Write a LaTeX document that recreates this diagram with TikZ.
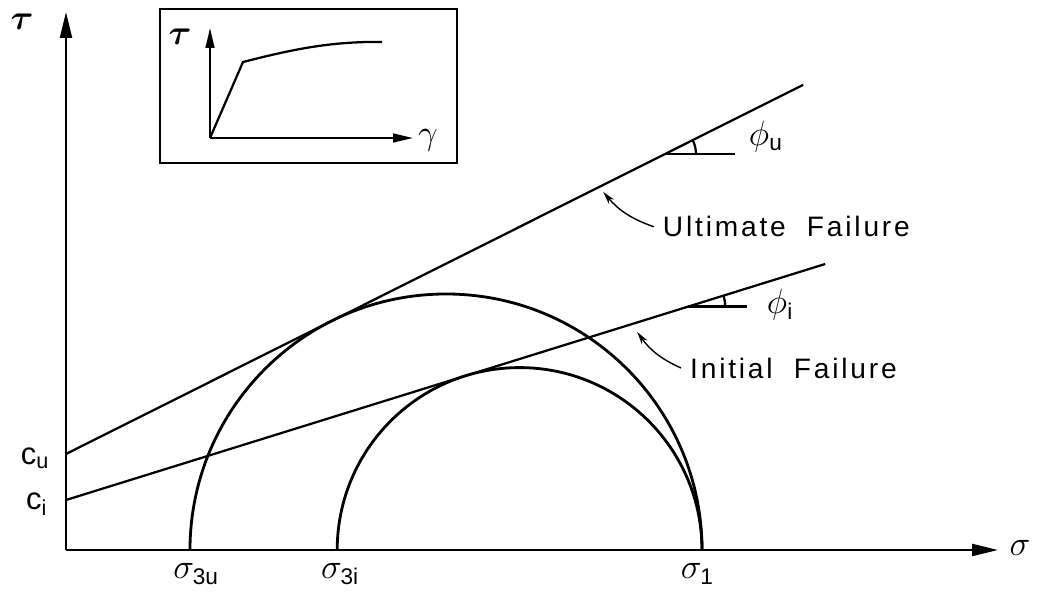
\documentclass[tikz,border=0pt]{standalone}
\usepackage{bm}
\usepackage{fontspec}
\setmainfont{Liberation Sans}
\usetikzlibrary{arrows.meta}

\tikzset{
    axis/.style={line width=1.6pt, -{Triangle[length=0.65cm,width=0.3cm]}},
    smallaxis/.style={line width=1.4pt, -{Triangle[length=0.5cm,width=0.22cm]}},
    envelope/.style={line width=1.6pt},
    mohr/.style={line width=2pt},
    lbl/.style={font=\fontsize{23}{27}\selectfont},
    cohesion/.style={font=\fontsize{22}{26}\selectfont},
    note/.style={font=\fontsize{20}{24}\selectfont\addfontfeature{LetterSpace=10}},
    pointer/.style={line width=1pt, -{Stealth[length=0.32cm,width=0.17cm]}},
}

\begin{document}
\begin{tikzpicture}
    \useasboundingbox (-1.65,-1.15) rectangle (24.4,13.75);

    % axes
    \coordinate (O) at (0,0);
    \draw[axis] (O) -- (0,13.45);
    \draw[axis] (O) -- (23.3,0);
    \node[lbl, inner sep=0pt] (tau) at (-1.1,13.2) {$\bm{\tau}$};
    \node[lbl] (sig) at (23.85,0.05) {$\sigma$};

    % Mohr circles
    \draw[mohr] (3.1,0) arc[start angle=180, end angle=0, radius=6.4];
    \draw[mohr] (6.78,0) arc[start angle=180, end angle=0, radius=4.56];

    \node[lbl] (s3u) at (3.25,-0.6) {$\sigma_{\mathrm{3u}}$};
    \node[lbl] (s3i) at (6.85,-0.6) {$\sigma_{\mathrm{3i}}$};
    \node[lbl] (s1) at (15.78,-0.6) {$\sigma_{\mathrm{1}}$};

    % failure envelopes
    \coordinate (cu) at (0,2.4);
    \coordinate (ci) at (0,1.25);
    \coordinate (uend) at (18.43,11.63);
    \coordinate (iend) at (18.98,7.15);
    \draw[envelope] (cu) -- (uend);
    \draw[envelope] (ci) -- (iend);

    \node[cohesion, anchor=east] (cul) at (-0.3,2.3) {c$_{\mathrm{u}}$};
    \node[cohesion, anchor=east] (cil) at (-0.35,1.15) {c$_{\mathrm{i}}$};

    % friction angles
    \coordinate (pu) at (14.98,9.9);
    \coordinate (pi) at (15.55,6.085);
    \draw[envelope] (pu) -- ++(1.75,0);
    \draw[envelope] ([xshift=0.77cm]pu) arc[start angle=0, end angle=26.6, radius=0.77];
    \draw[envelope] (pi) -- ++(1.48,0);
    \draw[envelope] ([xshift=0.93cm]pi) arc[start angle=0, end angle=17.3, radius=0.93];
    \node[lbl, anchor=west] (phiu) at (16.95,10.33) {$\phi_{\mathrm{u}}$};
    \node[lbl, anchor=west] (phii) at (17.4,6.12) {$\phi_{\mathrm{i}}$};

    % labels with pointers
    \node[note, anchor=west] (ult) at (14.8,8.08) {Ultimate\ \ Failure};
    \node[note, anchor=west] (ini) at (15.48,4.55) {Initial\ \ Failure};
    \coordinate (ulttip) at (13.43,8.95);
    \coordinate (initip) at (14.28,5.45);
    \draw[pointer] ([xshift=-3pt]ult.west) to[bend left=15] (ulttip);
    \draw[pointer] ([xshift=-3pt]ini.west) to[bend left=15] (initip);

    % inset: stress-strain curve
    \draw[line width=1.5pt] (2.35,9.675) rectangle (9.78,13.525);
    \coordinate (o2) at (3.6,10.3);
    \draw[smallaxis] (o2) -- (3.6,13.05);
    \draw[smallaxis] (o2) -- (8.675,10.3);
    \draw[envelope] (o2) -- (4.425,12.2) .. controls (5.6,12.5) and (6.6,12.72) .. (7.9,12.7);
    \node[lbl] (tau2) at (2.85,12.83) {$\bm{\tau}$};
    \node[lbl] (gam) at (9.05,10.25) {$\gamma$};
\end{tikzpicture}
\end{document}
